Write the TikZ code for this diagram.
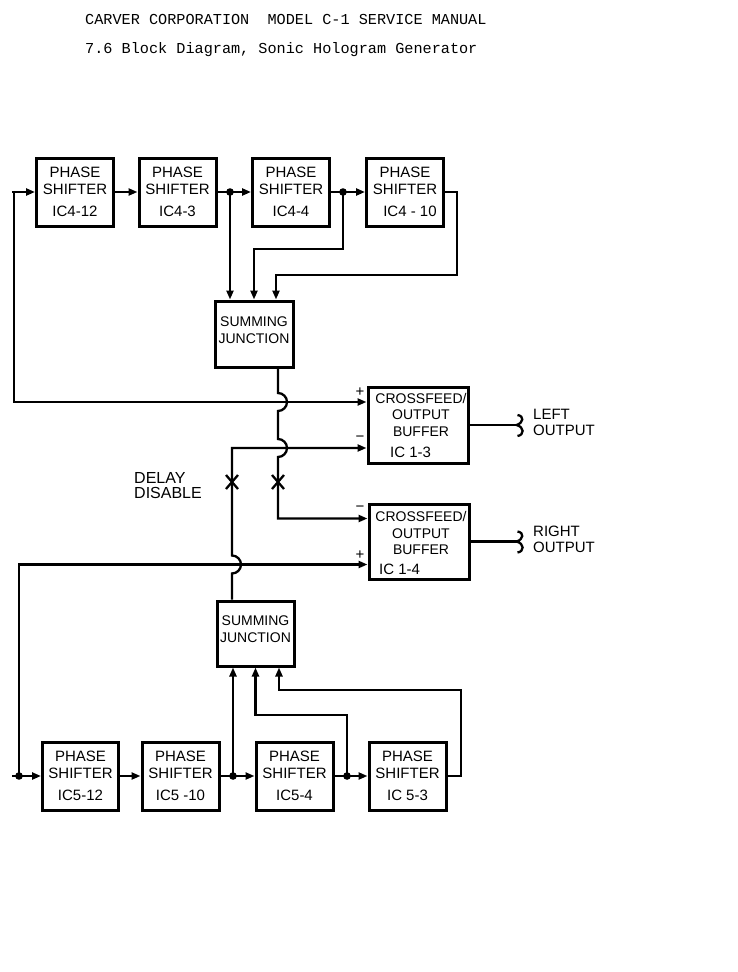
\documentclass[tikz,border=0pt]{standalone}
\usepackage{fontspec}
\setmainfont{Liberation Sans}
\newfontfamily\typew{Liberation Mono}
\usetikzlibrary{arrows.meta,calc}
\begin{document}
\begin{tikzpicture}[x=1pt,y=-1pt,
  wire/.style={line width=2.3pt},
  arr/.style={-{Triangle[length=9pt,width=7pt]}},
  box/.style={draw, line width=3pt, inner sep=0pt, align=center, font=\fontsize{15}{17}\selectfont},
  psbox/.style={box, minimum width=77pt, minimum height=68pt},
  sumbox/.style={box, minimum width=78pt, minimum height=66pt},
  cfbox/.style={box, minimum width=100pt, minimum height=76pt},
  lbl/.style={inner sep=0pt, align=center, font=\fontsize{14}{16.5}\selectfont},
  sign/.style={inner sep=0pt, font=\fontsize{15}{15}\selectfont},
  hdr/.style={inner sep=0pt, anchor=west, font=\typew\fontsize{15.2}{16}\selectfont}]
\fill[white] (0,0) rectangle (737,972);
\useasboundingbox (0,0) rectangle (737,972);

% header
\node[hdr] (h1) at (85,19) {CARVER CORPORATION\ \ MODEL C-1 SERVICE MANUAL};
\node[hdr] (h2) at (85,50) {7.6 Block Diagram, Sonic Hologram Generator};

% top row
\node[psbox] (T1) at (75,192) {PHASE\\SHIFTER\\[5pt]IC4-12};
\node[psbox] (T2) at (177.5,192) {PHASE\\SHIFTER\\[5pt]IC4-3};
\node[psbox] (T3) at (291,192) {PHASE\\SHIFTER\\[5pt]IC4-4};
\node[psbox] (T4) at (405,192) {PHASE\\SHIFTER\\[5pt]\hspace*{10pt}IC4 - 10};

% bottom row
\node[psbox, minimum width=76pt] (B1) at (80.5,776) {PHASE\\SHIFTER\\[5pt]IC5-12};
\node[psbox] (B2) at (180.5,776) {PHASE\\SHIFTER\\[5pt]IC5 -10};
\node[psbox] (B3) at (294.5,776) {PHASE\\SHIFTER\\[5pt]IC5-4};
\node[psbox] (B4) at (407.5,776) {PHASE\\SHIFTER\\[5pt]IC 5-3};

% summing junctions
\node[sumbox] (S1) at (254,334) {};
\node[lbl] (S1t) at (254,330) {SUMMING\\JUNCTION};
\node[sumbox, minimum width=77pt, minimum height=65pt] (S2) at (255.5,633.5) {};
\node[lbl] (S2t) at (255.5,629) {SUMMING\\JUNCTION};

% crossfeed buffers
\node[cfbox] (CF1) at (418,425) {};
\node[lbl] (CF1t) at (421,414.5) {CROSSFEED/\\OUTPUT\\BUFFER};
\node[lbl, anchor=west, font=\fontsize{15}{16}\selectfont] (CF1i) at (390,452) {IC 1-3};
\node[cfbox, minimum height=75pt] (CF2) at (419,541.5) {};
\node[lbl] (CF2t) at (421,533) {CROSSFEED/\\OUTPUT\\BUFFER};
\node[lbl, anchor=west, font=\fontsize{15}{16}\selectfont] (CF2i) at (379,569) {IC 1-4};

% input signs
\node[sign] (p1) at (360,392) {+};
\node[sign] (m1) at (360,439) {−};
\node[sign] (m2) at (360,509) {−};
\node[sign] (p2) at (360,555) {+};

% output labels
\node[lbl, anchor=west, align=left, font=\fontsize{15}{16}\selectfont] (LO) at (533,422) {LEFT\\OUTPUT};
\node[lbl, anchor=west, align=left, font=\fontsize{15}{16}\selectfont] (RO) at (533,539) {RIGHT\\OUTPUT};
\node[lbl, anchor=west, align=left, font=\fontsize{16}{15}\selectfont] (DD) at (134,485.5) {DELAY\\DISABLE};

% coordinates
\coordinate (inT) at (12,192);
\coordinate (cT) at (14,192);
\coordinate (inB) at (12,776);
\coordinate (dB) at (19,776);
\coordinate (d1) at (230,192);
\coordinate (d2) at (343,192);
\coordinate (k4) at (457,275);
\coordinate (d3) at (233,776);
\coordinate (d4) at (347,776);
\coordinate (k5) at (461,690);
\coordinate (s1b) at (S1.north);
\coordinate (s1c) at ([xshift=22pt]S1.north);
\coordinate (s1o) at ([xshift=24pt]S1.south);
\coordinate (s2b) at (S2.south);
\coordinate (s2c) at ([xshift=23.5pt]S2.south);
\coordinate (s2o) at ([xshift=-23.5pt]S2.north);
\coordinate (cf1p) at ([yshift=23pt]CF1.west);
\coordinate (cf1m) at ([yshift=-23pt]CF1.west);
\coordinate (cf2m) at ([yshift=23pt]CF2.west);
\coordinate (cf2p) at ([yshift=-23pt]CF2.west);
\coordinate (lo) at ($(CF1.east)+(47,0)$);
\coordinate (ro) at ($(CF2.east)+(46,0)$);
\coordinate (x1) at (232,482);
\coordinate (x2) at (278,482);

% top chain
\draw[wire] (inT) -- (cT);
\draw[wire,arr] (cT) -- (T1.west);
\draw[wire,arr] (T1.east) -- (T2.west);
\draw[wire,arr] (T2.east) -- (T3.west);
\draw[wire,arr] (T3.east) -- (T4.west);
\draw[wire,arr] (d1) -- (d1 |- S1.north);
\draw[wire,arr] (d2) -- ++(0,57) -| (s1b);
\draw[wire,arr] (T4.east) -| (k4) -| (s1c);
\fill (d1) circle[radius=3.8pt];
\fill (d2) circle[radius=3.8pt];

% bottom chain
\draw[wire] (inB) -- (dB);
\draw[wire,arr] (dB) -- (B1.west);
\draw[wire,arr] (B1.east) -- (B2.west);
\draw[wire,arr] (B2.east) -- (B3.west);
\draw[wire,arr] (B3.east) -- (B4.west);
\draw[wire,arr] (d3) -- (d3 |- S2.south);
\draw[wire,arr] (d4) -- ++(0,-61) -| (s2b);
\draw[wire,arr] (B4.east) -| (k5) -| (s2c);
\fill (d3) circle[radius=3.8pt];
\fill (d4) circle[radius=3.8pt];
\fill (dB) circle[radius=3.8pt];

% direct inputs to crossfeed
\draw[wire,arr] (cT) |- (cf1p);
\draw[wire,arr] (dB) |- (cf2p);

% summing outputs with hops
\draw[wire,arr] (s1o) -- ($(s1o |- cf1p)+(0,-9)$)
   arc[start angle=90,end angle=-90,radius=9pt]
   -- ($(s1o |- cf1m)+(0,-9)$)
   arc[start angle=90,end angle=-90,radius=9pt]
   -- (s1o |- cf2m) -- (cf2m);
\draw[wire,arr] (s2o) -- ($(s2o |- cf2p)+(0,9)$)
   arc[start angle=-90,end angle=90,radius=9pt]
   -- (s2o |- cf1m) -- (cf1m);

% delay disable crosses
\draw[wire] ($(x1)+(-6,-7)$) -- ($(x1)+(6,7)$);
\draw[wire] ($(x1)+(6,-7)$) -- ($(x1)+(-6,7)$);
\draw[wire] ($(x2)+(-6,-7)$) -- ($(x2)+(6,7)$);
\draw[wire] ($(x2)+(6,-7)$) -- ($(x2)+(-6,7)$);

% outputs
\draw[wire] (CF1.east) -- (lo);
\draw[wire] ($(lo)+(1,-10)$) .. controls ($(lo)+(8,-9)$) and ($(lo)+(7,-2)$) .. (lo)
   .. controls ($(lo)+(8,2)$) and ($(lo)+(8,10)$) .. ($(lo)+(1,11)$);
\draw[wire] (CF2.east) -- (ro);
\draw[wire] ($(ro)+(1,-10)$) .. controls ($(ro)+(8,-9)$) and ($(ro)+(7,-2)$) .. (ro)
   .. controls ($(ro)+(8,2)$) and ($(ro)+(8,10)$) .. ($(ro)+(1,11)$);
\end{tikzpicture}
\end{document}
